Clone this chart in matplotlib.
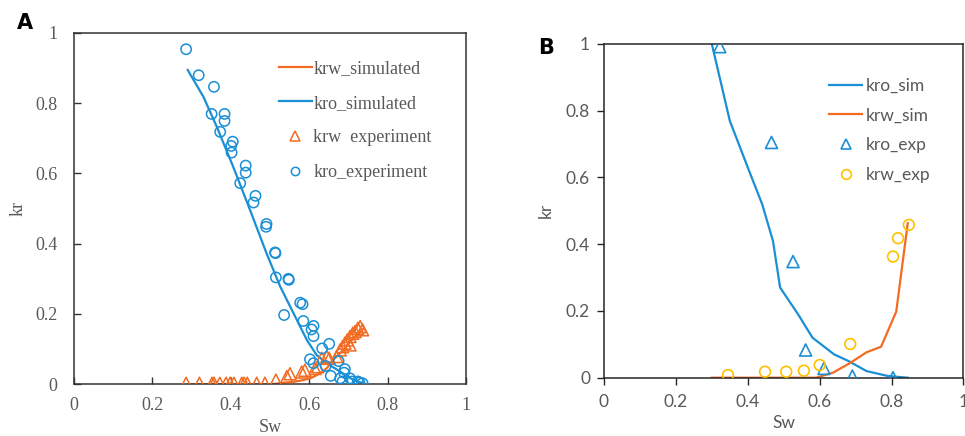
import matplotlib
matplotlib.use("Agg")
import matplotlib.pyplot as plt
from matplotlib.lines import Line2D

# ---- panel A data ----
a_kro_sim_x = [0.290, 0.330, 0.364, 0.406, 0.449, 0.491, 0.526, 0.560, 0.594, 0.619, 0.645, 0.679, 0.713, 0.738]
a_kro_sim_y = [0.894, 0.818, 0.733, 0.619, 0.496, 0.373, 0.278, 0.202, 0.126, 0.083, 0.060, 0.036, 0.012, 0.003]

a_krw_sim_x = [0.290, 0.400, 0.500, 0.526, 0.560, 0.585, 0.605, 0.619, 0.632, 0.645, 0.661, 0.680, 0.700, 0.720, 0.738]
a_krw_sim_y = [0.000, 0.000, 0.000, 0.003, 0.007, 0.012, 0.018, 0.026, 0.035, 0.046, 0.069, 0.090, 0.115, 0.140, 0.158]

a_kro_exp_x = [0.286, 0.318, 0.357, 0.351, 0.384, 0.384, 0.373, 0.405, 0.401, 0.402, 0.438, 0.438, 0.424,
               0.463, 0.458, 0.491, 0.490, 0.513, 0.514, 0.515, 0.547, 0.548, 0.577, 0.583, 0.536, 0.585,
               0.611, 0.606, 0.611, 0.633, 0.651, 0.602, 0.611, 0.642, 0.675, 0.655, 0.691, 0.689, 0.679,
               0.685, 0.704, 0.709, 0.724, 0.736, 0.728]
a_kro_exp_y = [0.953, 0.879, 0.846, 0.769, 0.769, 0.749, 0.718, 0.690, 0.678, 0.659, 0.622, 0.602, 0.572,
               0.536, 0.517, 0.456, 0.448, 0.375, 0.373, 0.304, 0.300, 0.297, 0.232, 0.228, 0.197, 0.180,
               0.166, 0.156, 0.137, 0.102, 0.115, 0.071, 0.060, 0.052, 0.066, 0.024, 0.043, 0.033, 0.017,
               0.008, 0.017, 0.008, 0.008, 0.003, 0.005]

a_krw_exp_x = [0.286, 0.320, 0.352, 0.357, 0.372, 0.388, 0.398, 0.408, 0.428, 0.434, 0.442, 0.466, 0.487,
               0.515, 0.543, 0.551, 0.581, 0.589, 0.615, 0.622, 0.632, 0.645, 0.651, 0.670, 0.679, 0.685,
               0.691, 0.697, 0.704, 0.711, 0.717, 0.724, 0.730, 0.736, 0.704]
a_krw_exp_y = [0.003, 0.003, 0.003, 0.003, 0.003, 0.003, 0.003, 0.003, 0.003, 0.003, 0.003, 0.003, 0.003,
               0.012, 0.022, 0.030, 0.035, 0.040, 0.045, 0.050, 0.074, 0.079, 0.074, 0.079, 0.098, 0.107,
               0.117, 0.126, 0.136, 0.145, 0.150, 0.159, 0.164, 0.155, 0.112]

# ---- panel B data ----
b_kro_sim_x = [0.30, 0.35, 0.40, 0.44, 0.47, 0.49, 0.54, 0.58, 0.64, 0.68, 0.73, 0.79, 0.845]
b_kro_sim_y = [1.00, 0.77, 0.63, 0.52, 0.41, 0.27, 0.19, 0.12, 0.07, 0.05, 0.02, 0.005, 0.0]

b_krw_sim_x = [0.30, 0.59, 0.637, 0.683, 0.73, 0.771, 0.813, 0.845]
b_krw_sim_y = [0.00, 0.00, 0.015, 0.043, 0.076, 0.093, 0.198, 0.463]

b_kro_exp_x = [0.322, 0.466, 0.526, 0.561, 0.612, 0.691, 0.804]
b_kro_exp_y = [0.992, 0.705, 0.348, 0.083, 0.028, 0.005, 0.000]

b_krw_exp_x = [0.345, 0.448, 0.507, 0.556, 0.600, 0.685, 0.804, 0.818, 0.848]
b_krw_exp_y = [0.008, 0.018, 0.018, 0.021, 0.038, 0.101, 0.363, 0.418, 0.458]

ticks = [0, 0.2, 0.4, 0.6, 0.8, 1]
tick_labels = ["0", "0.2", "0.4", "0.6", "0.8", "1"]

blue = "#1a8fd6"
orange = "#f26b21"
yellow = "#ffc000"
gray = "#595959"

fig = plt.figure(figsize=(9.65, 4.36), dpi=100)

# ================= panel A =================
serif = "Liberation Serif"
ax = fig.add_axes([0.0767, 0.1186, 0.4062, 0.8064])
ax.plot(a_krw_sim_x, a_krw_sim_y, color=orange, lw=1.6, zorder=2)
ax.plot(a_kro_sim_x, a_kro_sim_y, color=blue, lw=1.6, zorder=2)
ax.scatter(a_krw_exp_x, a_krw_exp_y, marker="^", s=75, facecolors="none",
           edgecolors=orange, linewidths=1.1, zorder=3)
ax.scatter(a_kro_exp_x, a_kro_exp_y, marker="o", s=55, facecolors="none",
           edgecolors=blue, linewidths=1.1, zorder=3)
ax.set_xlim(0, 1)
ax.set_ylim(0, 1)
ax.set_xticks(ticks)
ax.set_yticks(ticks)
ax.set_xticklabels(tick_labels, family=serif, fontsize=13, color=gray)
ax.set_yticklabels(tick_labels, family=serif, fontsize=13, color=gray)
ax.tick_params(direction="in", length=5, width=1, color="#333333")
ax.tick_params(axis="x", pad=9)
ax.tick_params(axis="y", pad=12)
for s in ax.spines.values():
    s.set_color("#333333")
    s.set_linewidth(1.1)
ax.set_xlabel("Sw", family=serif, fontsize=13, color=gray, labelpad=4)
ax.set_ylabel("kr", family=serif, fontsize=13, color=gray, labelpad=6)

handles_a = [
    Line2D([], [], color=orange, lw=1.6),
    Line2D([], [], color=blue, lw=1.6),
    Line2D([], [], color=orange, marker="^", ls="none", mfc="none", mew=1.1, ms=7),
    Line2D([], [], color=blue, marker="o", ls="none", mfc="none", mew=1.1, ms=6),
]
leg = ax.legend(handles_a, ["krw_simulated", "kro_simulated", "krw  experiment", "kro_experiment"],
                loc="upper left", bbox_to_anchor=(0.505, 0.943), frameon=False,
                prop={"family": serif, "size": 13}, handlelength=1.8, handletextpad=0.1,
                labelspacing=0.98, borderaxespad=0)
for t in leg.get_texts():
    t.set_color(gray)

fig.text(0.026, 0.948, "A", fontsize=15, fontweight="bold", family="DejaVu Sans",
         ha="center", va="center")

# ================= panel B =================
sans = "Lato"
bx = fig.add_axes([0.6259, 0.1337, 0.3725, 0.7654])
bx.plot(b_kro_sim_x, b_kro_sim_y, color=blue, lw=1.6, zorder=2)
bx.plot(b_krw_sim_x, b_krw_sim_y, color=orange, lw=1.6, zorder=2)
bx.scatter(b_kro_exp_x, b_kro_exp_y, marker="^", s=75, facecolors="none",
           edgecolors=blue, linewidths=1.2, zorder=3)
bx.scatter(b_krw_exp_x, b_krw_exp_y, marker="o", s=60, facecolors="none",
           edgecolors=yellow, linewidths=1.2, zorder=3)
bx.set_xlim(0, 1)
bx.set_ylim(0, 1)
bx.set_xticks(ticks)
bx.set_yticks(ticks)
bx.set_xticklabels(tick_labels, family=sans, fontsize=12.5, color=gray)
bx.set_yticklabels(tick_labels, family=sans, fontsize=12.5, color=gray)
bx.tick_params(direction="out", length=5, width=1, color="#262626")
bx.tick_params(axis="x", pad=7)
bx.tick_params(axis="y", pad=5)
for s in bx.spines.values():
    s.set_color("#262626")
    s.set_linewidth(1.1)
bx.set_xlabel("Sw", family=sans, fontsize=12.5, color=gray, labelpad=3)
bx.set_ylabel("kr", family=sans, fontsize=12.5, color=gray, labelpad=9)

handles_b = [
    Line2D([], [], color=blue, lw=1.6),
    Line2D([], [], color=orange, lw=1.6),
    Line2D([], [], color=blue, marker="^", ls="none", mfc="none", mew=1.2, ms=7.5),
    Line2D([], [], color=yellow, marker="o", ls="none", mfc="none", mew=1.2, ms=7),
]
leg_b = bx.legend(handles_b, ["kro_sim", "krw_sim", "kro_exp", "krw_exp"],
                  loc="upper left", bbox_to_anchor=(0.608, 0.92), frameon=False,
                  prop={"family": sans, "size": 12.5}, handlelength=1.9, handletextpad=0.2,
                  labelspacing=0.8, borderaxespad=0)
for t in leg_b.get_texts():
    t.set_color(gray)

fig.text(0.566, 0.89, "B", fontsize=15, fontweight="bold", family="DejaVu Sans",
         ha="center", va="center")

fig.savefig("out.png", dpi=100)
